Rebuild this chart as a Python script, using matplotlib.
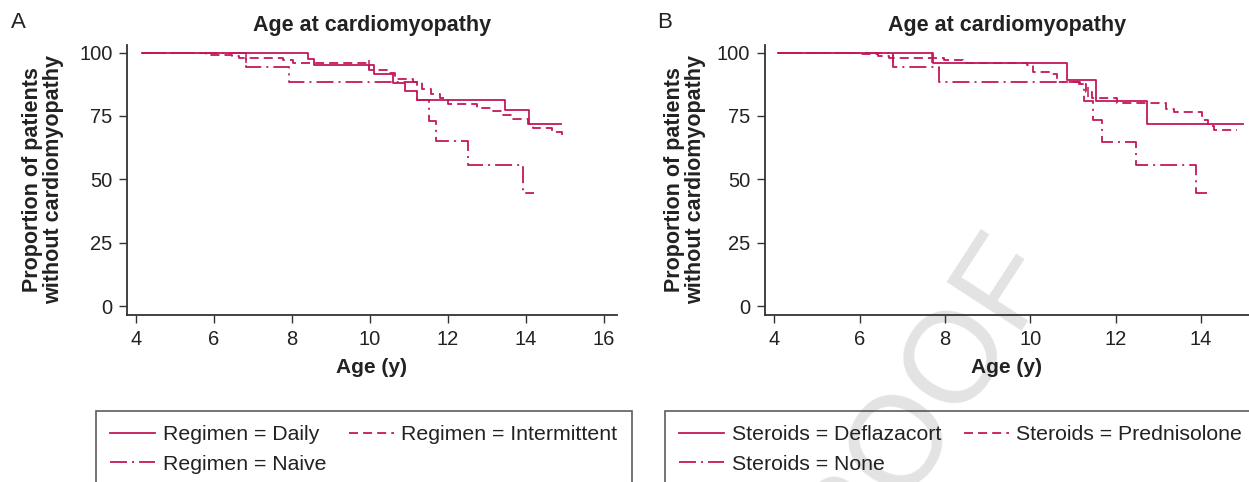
import matplotlib.pyplot as plt

plt.rcParams['font.family'] = ['Liberation Sans', 'DejaVu Sans']

# panel A - regimen (age in years, % without cardiomyopathy)
daily_t = [4.15, 8.40, 8.56, 10.11, 10.60, 10.90, 11.20, 13.46, 14.08, 14.90]
daily_s = [100, 97.6, 95.0, 91.5, 88.1, 84.8, 81.3, 77.3, 71.9, 71.9]
inter_t = [4.15, 5.79, 6.45, 6.65, 7.76, 8.02, 9.98, 10.43, 10.64, 11.10, 11.32, 11.56,
           11.79, 12.01, 12.73, 13.16, 13.42, 13.67, 14.06, 14.17, 14.66, 14.92, 14.95]
inter_s = [100, 99.2, 98.7, 97.7, 97.1, 96.0, 93.0, 92.1, 89.6, 88.4, 85.7, 83.5,
           82.2, 79.8, 78.2, 76.9, 75.2, 74.0, 71.9, 70.3, 68.6, 67.0, 67.0]
naive_t = [4.15, 6.82, 7.91, 11.20, 11.51, 11.69, 12.52, 13.93, 14.19]
naive_s = [100, 94.5, 88.5, 81.3, 72.9, 65.0, 55.5, 44.6, 44.6]
censA_t = [6.82, 9.98]
censA_s = [97.7, 95.0]

# panel B - steroids
defl_t = [4.10, 7.71, 10.85, 11.54, 12.74, 14.99]
defl_s = [100, 95.9, 89.2, 81.0, 72.0, 72.0]
pred_t = [4.10, 5.94, 6.44, 6.70, 7.97, 8.43, 9.92, 10.07, 10.45, 10.62, 11.17, 11.30,
          11.45, 12.02, 13.18, 13.37, 14.02, 14.17, 14.30, 14.84]
pred_s = [100, 99.3, 98.7, 98.0, 97.1, 96.0, 95.0, 92.5, 91.4, 88.5, 87.5, 84.5,
          82.2, 80.2, 77.8, 76.4, 73.6, 71.2, 69.6, 69.6]
none_t = [4.10, 6.79, 7.87, 11.13, 11.25, 11.46, 11.67, 12.48, 13.88, 14.13]
none_s = [100, 94.5, 88.5, 87.5, 81.0, 73.3, 64.8, 55.5, 44.6, 44.6]
censB_t = [6.78, 7.69, 11.35]
censB_s = [98.0, 98.0, 84.5]

labelsA = ['Regimen = Daily', 'Regimen = Intermittent', 'Regimen = Naive']
labelsB = ['Steroids = Deflazacort', 'Steroids = Prednisolone', 'Steroids = None']

red = '#c4175a'
dark = '#333333'
styles = ['-', (0, (5, 2.8)), (0, (9.4, 2.8, 1.1, 2.8))]

fig = plt.figure(figsize=(12.49, 4.82), dpi=100)
axA = fig.add_axes([127 / 1249, 1 - 315 / 482, 490 / 1249, 270 / 482])
axB = fig.add_axes([764.7 / 1249, 1 - 315 / 482, 484.3 / 1249, 270 / 482])


def km_panel(ax, curves, cens, labels, xlim, xticks, ylab_x):
    ax.set_facecolor('none')
    handles = []
    for (t, s), ls, lab in zip(curves, styles, labels):
        h, = ax.plot(t, s, drawstyle='steps-post', color=red, lw=1.3, ls=ls, label=lab)
        handles.append(h)
    ax.plot(cens[0], cens[1], ls='none', marker='|', ms=7, mew=1.1, color=red)
    ax.set_xlim(*xlim)
    ax.set_ylim(-3.5, 103)
    ax.set_xticks(xticks)
    ax.set_yticks([0, 25, 50, 75, 100])
    for side in ['top', 'right']:
        ax.spines[side].set_visible(False)
    for side in ['left', 'bottom']:
        ax.spines[side].set_color(dark)
        ax.spines[side].set_linewidth(1.3)
    ax.tick_params(length=5.5, width=1.0, color=dark, labelsize=14.5,
                   labelcolor='#222222', pad=5)
    ax.set_title('Age at cardiomyopathy', fontsize=15.5, fontweight='bold',
                 color='#222222', pad=10)
    ax.set_xlabel('Age (y)', fontsize=15, fontweight='bold', color='#222222')
    ax.xaxis.set_label_coords(0.5, -0.16)
    ax.set_ylabel('Proportion of patients\nwithout cardiomyopathy', fontsize=15.5,
                  fontweight='bold', color='#222222', linespacing=1.0)
    ax.yaxis.set_label_coords(ylab_x, 0.5)
    return handles


hA = km_panel(axA, [(daily_t, daily_s), (inter_t, inter_s), (naive_t, naive_s)],
              (censA_t, censA_s), labelsA, (3.77, 16.33), [4, 6, 8, 10, 12, 14, 16], -0.128)
hB = km_panel(axB, [(defl_t, defl_s), (pred_t, pred_s), (none_t, none_s)],
              (censB_t, censB_s), labelsB, (3.78, 15.12), [4, 6, 8, 10, 12, 14], -0.121)

for h, x0 in [(hA, 96), (hB, 665)]:
    # row-wise order: first two on the top row, third below
    hh = [h[0], h[2], h[1]]
    leg = fig.legend(hh, [l.get_label() for l in hh], loc='upper left',
                     bbox_to_anchor=(x0 / 1249, 1 - 411 / 482), borderaxespad=0,
                     ncol=2, fontsize=15.3, frameon=True, fancybox=False, edgecolor=dark,
                     handlelength=2.1, handletextpad=0.35, columnspacing=1.1,
                     borderpad=0.68, labelspacing=0.48)
    leg.get_frame().set_facecolor('none')
    leg.get_frame().set_linewidth(1.2)
    for t in leg.get_texts():
        t.set_color('#222222')

fig.text(18 / 1249, 1 - 22 / 482, 'A', fontsize=16, ha='center', va='center', color='#222222')
fig.text(665 / 1249, 1 - 22 / 482, 'B', fontsize=16, ha='center', va='center', color='#222222')

# faint proof watermark
fig.text(0.8439, 0.4523, 'PROOF', fontsize=93, color='#e3e3e3', rotation=57,
         rotation_mode='anchor', ha='right', va='baseline', zorder=-1)

fig.savefig('out.png', dpi=100)
